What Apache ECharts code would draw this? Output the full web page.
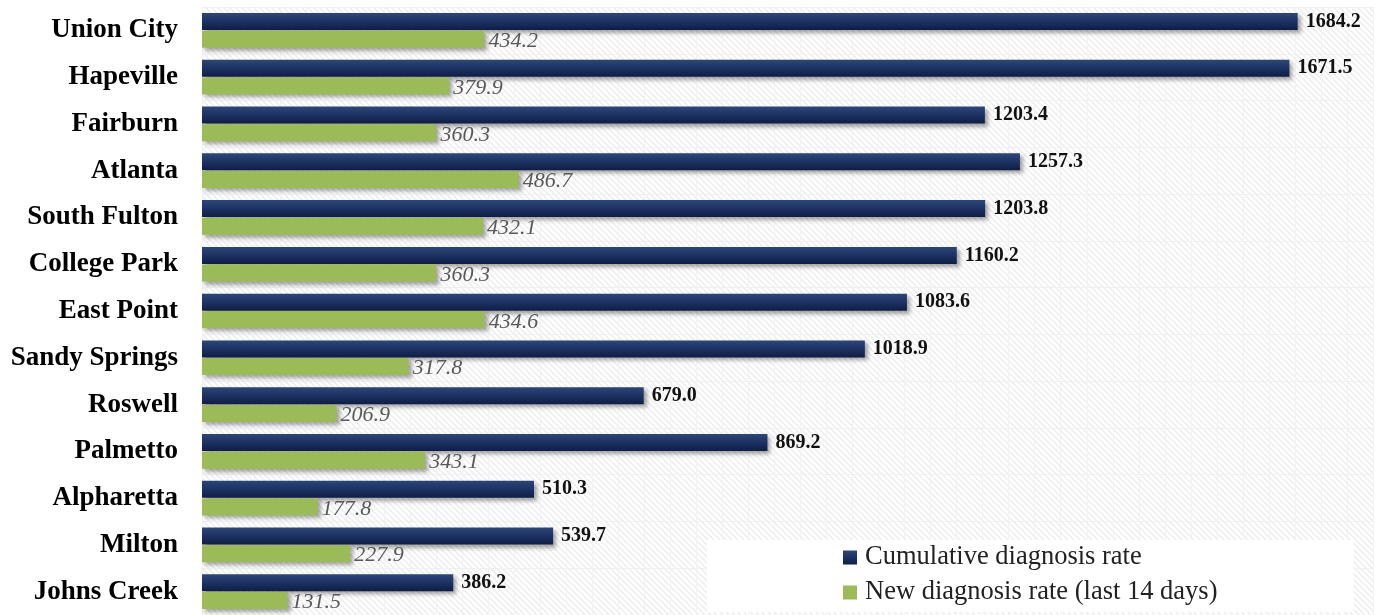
<!DOCTYPE html>
<html>
<head>
<meta charset="utf-8">
<script src="https://cdn.jsdelivr.net/npm/echarts@6/dist/echarts.min.js"></script>
<style>
html,body{margin:0;padding:0;background:#fff;overflow:hidden;}
#chart{width:1391px;height:615px;}
</style>
</head>
<body>
<div id="chart"></div>
<script>
const categories = ["Union City","Hapeville","Fairburn","Atlanta","South Fulton","College Park","East Point","Sandy Springs","Roswell","Palmetto","Alpharetta","Milton","Johns Creek"];
const cumulativeRate = [1684.2,1671.5,1203.4,1257.3,1203.8,1160.2,1083.6,1018.9,679.0,869.2,510.3,539.7,386.2];
const newRate = [434.2,379.9,360.3,486.7,432.1,360.3,434.6,317.8,206.9,343.1,177.8,227.9,131.5];
const seriesNames = ["Cumulative diagnosis rate","New diagnosis rate (last 14 days)"];

// hatch pattern for plot background
const pc = document.createElement('canvas');
pc.width = 6; pc.height = 6;
const px = pc.getContext('2d');
px.fillStyle = '#ffffff'; px.fillRect(0,0,6,6);
px.strokeStyle = '#efefef'; px.lineWidth = 1.6;
px.beginPath();
px.moveTo(-1,-1); px.lineTo(7,7);
px.moveTo(-4,2); px.lineTo(4,10);
px.moveTo(2,-4); px.lineTo(10,4);
px.stroke();

const serif = '"Liberation Serif","DejaVu Serif",serif';
const chart = echarts.init(document.getElementById('chart'));
chart.setOption({
  animation:false,
  backgroundColor:'#ffffff',
  grid:{left:202,right:18,top:7,bottom:-6,show:true,borderWidth:0,
    backgroundColor:{image:pc,repeat:'repeat'}},
  xAxis:{type:'value',min:0,max:1800,interval:40,
    axisLabel:{show:false},axisLine:{show:false},axisTick:{show:false},
    splitLine:{show:true,lineStyle:{color:'#f2f2f2',width:1}}},
  yAxis:{type:'category',data:categories,inverse:true,
    axisLine:{show:false},axisTick:{show:false},
    axisLabel:{margin:24,color:'#000',fontFamily:serif,fontWeight:'bold',fontSize:27},
    splitLine:{show:true,lineStyle:{color:'#f0f0f0',width:1}}},
  legend:{orient:'vertical',left:707,top:540,
    padding:[4,136,6,136],backgroundColor:'#ffffff',
    itemWidth:14,itemHeight:14,itemGap:8,icon:'rect',
    textStyle:{fontFamily:serif,fontSize:26.5,color:'#222',lineHeight:24,padding:[0,0,0,3]},
    data:seriesNames},
  series:[
    {name:seriesNames[0],type:'bar',data:cumulativeRate,barWidth:17,barGap:'4%',
      itemStyle:{color:new echarts.graphic.LinearGradient(0,0,0,1,[
        {offset:0,color:'#2c4777'},{offset:0.5,color:'#1c3263'},{offset:1,color:'#0f1d44'}]),
        shadowColor:'rgba(0,0,0,0.35)',shadowBlur:4,shadowOffsetX:3,shadowOffsetY:3},
      label:{show:true,position:'right',distance:8,color:'#111',fontFamily:serif,fontWeight:'bold',fontSize:20,
        formatter:p=>p.value.toFixed(1)}},
    {name:seriesNames[1],type:'bar',data:newRate,barWidth:17,
      itemStyle:{color:'#9bbb59',
        shadowColor:'rgba(0,0,0,0.35)',shadowBlur:4,shadowOffsetX:3,shadowOffsetY:3},
      label:{show:true,position:'right',distance:4,offset:[0,2],color:'#595959',fontFamily:serif,fontStyle:'italic',fontSize:22,
        formatter:p=>p.value.toFixed(1)}}
  ]
});
</script>
</body>
</html>
